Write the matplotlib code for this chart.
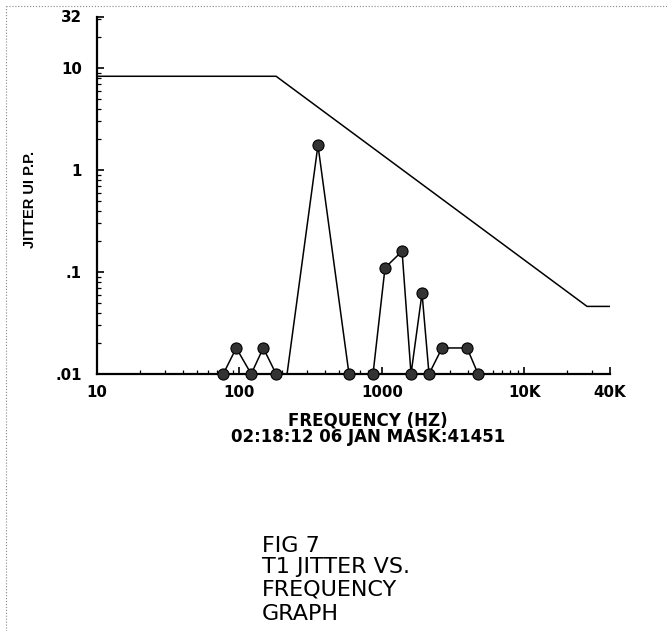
import matplotlib
matplotlib.use("Agg")
import matplotlib.pyplot as plt
from matplotlib.lines import Line2D
from matplotlib.ticker import LogLocator, NullFormatter

# datos
freq_hz = [77, 95, 121, 147, 181, 216, 356, 588, 867, 1053, 1387, 1603, 1915, 2144, 2647, 3965, 4740]
jitter_ui = [0.01, 0.018, 0.01, 0.018, 0.01, 0.01, 1.75, 0.01, 0.01, 0.11, 0.16, 0.01, 0.062, 0.01, 0.018, 0.018, 0.01]
marked = [0, 1, 2, 3, 4, 6, 7, 8, 9, 10, 11, 12, 13, 14, 15, 16]

# mascara de tolerancia
mask_freq = [10, 181, 27600, 40000]
mask_ui = [8.3, 8.3, 0.046, 0.046]

x_ticks = [10, 100, 1000, 10000, 40000]
x_labels = ["10", "100", "1000", "10K", "40K"]
y_ticks = [0.01, 0.1, 1, 10, 32]
y_labels = [".01", ".1", "1", "10", "32"]

plt.rcParams['font.family'] = ['DejaVu Sans']

W, H = 667, 631
fig = plt.figure(figsize=(W / 100, H / 100), dpi=100)
ax = fig.add_axes([97 / W, (H - 374) / H, (610 - 97) / W, (374 - 16.5) / H])

ax.plot(mask_freq, mask_ui, color="black", linewidth=1.1)
ax.plot(freq_hz, jitter_ui, color="black", linewidth=1.1,
        marker="o", markevery=marked, markersize=8,
        markerfacecolor="#333333", markeredgecolor="black", markeredgewidth=0.8,
        clip_on=False, zorder=3)

ax.set_xscale("log")
ax.set_yscale("log")
ax.set_xlim(10, 40000)
ax.set_ylim(0.01, 32)

ax.set_xticks(x_ticks)
ax.set_xticklabels(x_labels)
ax.set_yticks(y_ticks)
ax.set_yticklabels(y_labels)
ax.xaxis.set_minor_locator(LogLocator(base=10, subs=range(2, 10)))
ax.yaxis.set_minor_locator(LogLocator(base=10, subs=range(2, 10)))
ax.xaxis.set_minor_formatter(NullFormatter())
ax.yaxis.set_minor_formatter(NullFormatter())

for s in ["top", "right"]:
    ax.spines[s].set_visible(False)
for s in ["left", "bottom"]:
    ax.spines[s].set_linewidth(1.6)

ax.tick_params(which="major", direction="in", length=5, width=1.2)
ax.tick_params(which="minor", direction="in", length=3, width=0.9)
ax.tick_params(axis="x", which="major", pad=8)
ax.tick_params(axis="y", which="major", pad=11)
for lab in ax.get_xticklabels() + ax.get_yticklabels():
    lab.set_fontweight("bold")
    lab.set_fontsize(10.8)

fig.text(30 / W, 1 - 199 / H, "JITTER UI P.P.", rotation=90, ha="center", va="center",
         fontsize=10.5, fontweight="bold", family="Liberation Sans")

fig.text(368 / W, 1 - 425 / H, "FREQUENCY (HZ)", ha="center", va="baseline",
         fontsize=12, fontweight="bold")
fig.text(368 / W, 1 - 442 / H, "02:18:12 06 JAN MASK:41451", ha="center", va="baseline",
         fontsize=12, fontweight="bold")

# texto de la figura
caption = ["FIG 7", "T1 JITTER VS.", "FREQUENCY", "GRAPH"]
baselines = [552, 573, 595, 620]
for txt, yb in zip(caption, baselines):
    fig.text(262 / W, 1 - yb / H, txt, ha="left", va="baseline", fontsize=16)

# borde punteado del escaneo
fig.add_artist(Line2D([6 / W, 1], [1 - 6 / H, 1 - 6 / H], color="#888888",
                      linestyle=":", linewidth=0.8))
fig.add_artist(Line2D([6 / W, 6 / W], [0, 1 - 6 / H], color="#888888",
                      linestyle=":", linewidth=0.8))

fig.savefig("out.png", dpi=100)
